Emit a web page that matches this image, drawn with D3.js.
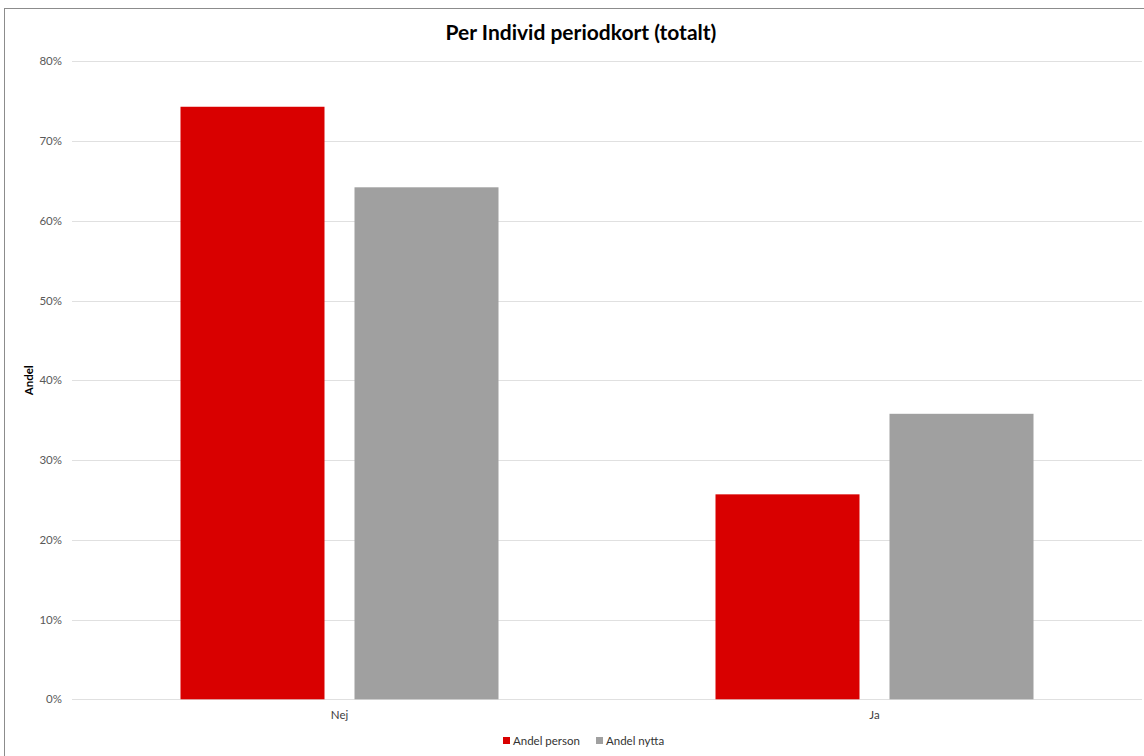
<!DOCTYPE html>
<html><head><meta charset="utf-8">
<script src="https://cdn.jsdelivr.net/npm/d3@7"></script>
<style>body{margin:0;background:#fff}svg{display:block}text{font-family:Lato,"Open Sans",sans-serif}</style>
</head><body>
<svg id="c" width="1144" height="756"></svg>
<script>
const categories = ["Nej", "Ja"];
const seriesNames = ["Andel person", "Andel nytta"];
const andelPerson = [0.743, 0.257];
const andelNytta = [0.642, 0.358];
const yTicks = [0, 0.1, 0.2, 0.3, 0.4, 0.5, 0.6, 0.7, 0.8];
const colors = ["#d90000", "#a0a0a0"];

const svg = d3.select("#c");
svg.append("rect").attr("x", 4.5).attr("y", 8.5).attr("width", 1145).attr("height", 760)
  .attr("fill", "#fff").attr("stroke", "#8c8c8c").attr("stroke-width", 1);

const L = 72, R = 1142, T = 61.3, B = 699.3;
const x = d3.scaleBand().domain(categories).range([L, R]).paddingOuter(0).paddingInner(0);
const y = d3.scaleLinear().domain([0, 0.8]).range([B, T]);
const x1 = d3.scaleBand().domain(seriesNames).range([0, 318]).paddingInner(30 / 174);

// gridlines
svg.append("g").selectAll("line").data(yTicks).join("line")
  .attr("x1", L).attr("x2", R).attr("y1", d => Math.round(y(d)) + 0.5).attr("y2", d => Math.round(y(d)) + 0.5)
  .attr("stroke", "#e0e0e0").attr("stroke-width", 1);

const yAxis = d3.axisLeft(y).tickValues(yTicks).tickFormat(d3.format(".0%")).tickSize(0).tickPadding(0);
const ga = svg.append("g").attr("transform", `translate(${L - 10},0)`).call(yAxis);
ga.select(".domain").remove();
ga.selectAll("text").attr("font-size", 11.5).attr("fill", "#595959").attr("font-family", "Lato, sans-serif");

const data = categories.map((c, i) => ({cat: c, vals: [andelPerson[i], andelNytta[i]]}));
const groups = svg.append("g").selectAll("g").data(data).join("g")
  .attr("transform", d => `translate(${x(d.cat) + (x.bandwidth() - 318) / 2},0)`);
groups.selectAll("rect").data(d => d.vals.map((v, j) => ({v, s: seriesNames[j], j}))).join("rect")
  .attr("x", d => x1(d.s)).attr("width", x1.bandwidth())
  .attr("y", d => y(d.v)).attr("height", d => y(0) - y(d.v))
  .attr("fill", d => colors[d.j]);

const xAxis = d3.axisBottom(x).tickSize(0).tickPadding(0);
const gx = svg.append("g").attr("transform", `translate(0,${B + 20})`).call(xAxis);
gx.select(".domain").remove();
gx.selectAll("text").attr("font-size", 11.5).attr("fill", "#404040").attr("font-family", "Lato, sans-serif").attr("dy", "0");

svg.append("text").attr("x", 581).attr("y", 40).attr("text-anchor", "middle")
  .attr("font-size", 21).attr("font-weight", "bold").attr("fill", "#000").text("Per Individ periodkort (totalt)");

svg.append("text").attr("transform", `translate(33,${(T + B) / 2}) rotate(-90)`).attr("text-anchor", "middle")
  .attr("font-size", 11.5).attr("font-weight", "bold").attr("fill", "#000").text("Andel");

// legend
const leg = svg.append("g").attr("transform", "translate(503,737)");
const legX = [0, 93];
seriesNames.forEach((s, i) => {
  const g = leg.append("g").attr("transform", `translate(${legX[i]},0)`);
  g.append("rect").attr("x", 0).attr("y", 0).attr("width", 7).attr("height", 7).attr("fill", colors[i]);
  g.append("text").attr("x", 10).attr("y", 8).attr("font-size", 11.5).attr("fill", "#333").text(s);
});
</script>
</body></html>
